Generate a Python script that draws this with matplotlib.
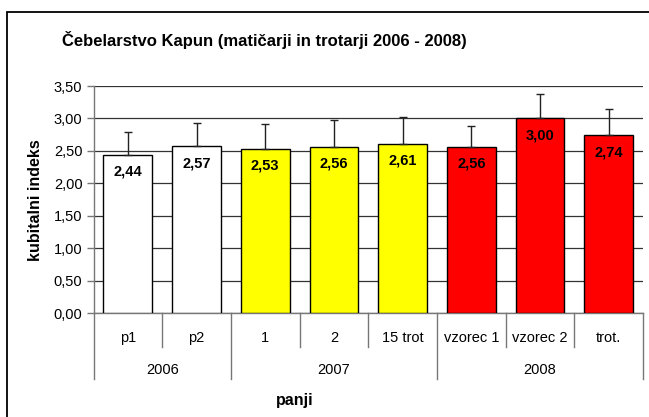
import matplotlib
matplotlib.use("Agg")
import matplotlib.pyplot as plt
from matplotlib.transforms import blended_transform_factory
from matplotlib.patches import Rectangle

plt.rcParams['font.family'] = ['Liberation Sans', 'DejaVu Sans']

categories = ["p1", "p2", "1", "2", "15 trot", "vzorec 1", "vzorec 2", "trot."]
years = ["2006", "2007", "2008"]
year_sizes = [2, 3, 3]
values = [2.44, 2.57, 2.53, 2.56, 2.61, 2.56, 3.00, 2.74]
errors = [0.35, 0.36, 0.38, 0.42, 0.41, 0.32, 0.38, 0.40]
colors = ["#FFFFFF", "#FFFFFF", "#FFFF00", "#FFFF00", "#FFFF00", "#FF0000", "#FF0000", "#FF0000"]
yticks = [0.0, 0.5, 1.0, 1.5, 2.0, 2.5, 3.0, 3.5]

W, H = 649, 417
fig = plt.figure(figsize=(W / 100, H / 100), dpi=100)

# figure border (left & top visible, cropped right/bottom)
fig.patches.append(Rectangle((6.5 / W, -0.1), 1.2, (H - 11.5) / H + 0.1, transform=fig.transFigure,
                             fill=False, edgecolor='black', linewidth=1.3))

left, right, top, bottom = 93.5, 643, 86, 313.3
ax = fig.add_axes([left / W, 1 - bottom / H, (right - left) / W, (bottom - top) / H])

x = list(range(len(categories)))
ax.bar(x, values, width=0.71, color=colors, edgecolor='black', linewidth=1.0, zorder=3)
ax.errorbar(x, values, yerr=[[0] * len(values), errors], fmt='none', ecolor='#222222',
            elinewidth=1.0, capsize=3.2, capthick=1.0, zorder=4)

for xi, v in zip(x, values):
    ax.annotate(f"{v:.2f}".replace('.', ','), (xi, v), xytext=(0, -12), textcoords='offset points',
                ha='center', va='center', fontsize=10.5, fontweight='bold', zorder=5)

ax.set_xlim(-0.5, len(categories) - 0.5)
ax.set_ylim(0, 3.5)
ax.set_yticks(yticks)
ax.set_yticklabels([f"{t:.2f}".replace('.', ',') for t in yticks], fontsize=10.5)
ax.tick_params(axis='y', direction='out', length=5, width=1, color='#777777', pad=3)
ax.set_xticks([])
ax.yaxis.grid(True, color='#333333', linewidth=0.9, zorder=0)
ax.set_axisbelow(True)
for s in ['top', 'right']:
    ax.spines[s].set_visible(False)
ax.spines['left'].set_color('#777777')
ax.spines['bottom'].set_color('#777777')
ax.spines['left'].set_linewidth(1.0)
ax.spines['bottom'].set_linewidth(1.0)

ah = bottom - top
tr = blended_transform_factory(ax.transData, ax.transAxes)
short_y = -(347 - bottom) / ah
long_y = -(379 - bottom) / ah
bounds = [0]
for s in year_sizes:
    bounds.append(bounds[-1] + s)
for i in range(len(categories) + 1):
    yb = long_y if i in bounds else short_y
    ax.plot([i - 0.5, i - 0.5], [0, yb], transform=tr, color='#777777', linewidth=1.0, clip_on=False)
for xi, c in zip(x, categories):
    ax.text(xi, -(338 - bottom) / ah, c, transform=tr, ha='center', va='center', fontsize=10.5)
for i, yname in enumerate(years):
    cx = (bounds[i] + bounds[i + 1]) / 2 - 0.5
    ax.text(cx, -(369.5 - bottom) / ah, yname, transform=tr, ha='center', va='center', fontsize=10.5)

fig.text(264 / W, 1 - 40 / H, "Čebelarstvo Kapun (matičarji in trotarji 2006 - 2008)",
         ha='center', va='center', fontsize=12, fontweight='bold')
fig.text(35 / W, 1 - 200 / H, "kubitalni indeks", rotation=90, ha='center', va='center',
         fontsize=11.5, fontweight='bold')
fig.text(295 / W, 1 - 400 / H, "panji", ha='center', va='center', fontsize=11.5, fontweight='bold')

fig.savefig("out.png", dpi=100)
